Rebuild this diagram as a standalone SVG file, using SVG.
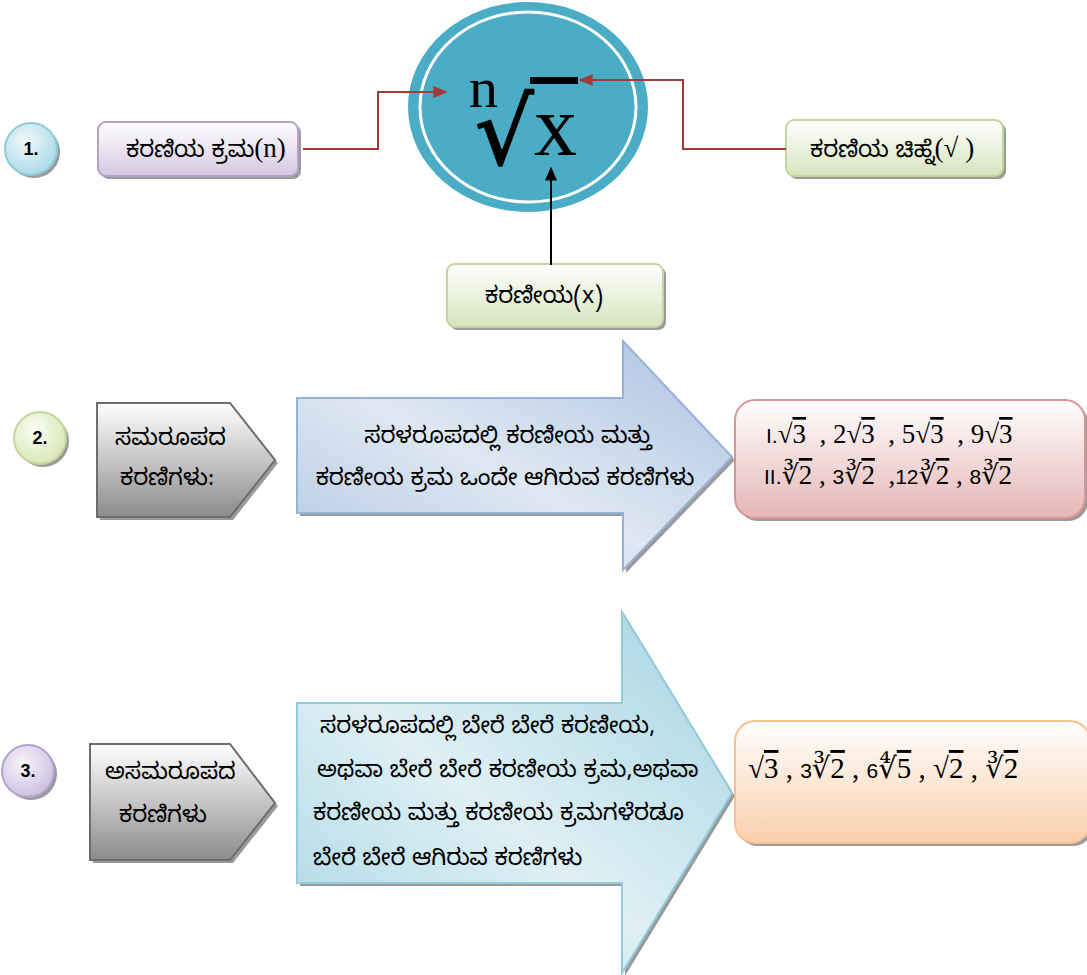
<svg xmlns="http://www.w3.org/2000/svg" width="1087" height="975" viewBox="0 0 1087 975">
<defs>
<linearGradient id="gPurple" x1="0" y1="0" x2="0" y2="1"><stop offset="0" stop-color="#ffffff"/><stop offset="1" stop-color="#d5c8e2"/></linearGradient>
<linearGradient id="gGreen" x1="0" y1="0" x2="0" y2="1"><stop offset="0" stop-color="#ffffff"/><stop offset="1" stop-color="#d7e4bd"/></linearGradient>
<linearGradient id="gGray" x1="0" y1="0" x2="0" y2="1"><stop offset="0" stop-color="#ffffff"/><stop offset="1" stop-color="#8c8c8c"/></linearGradient>
<linearGradient id="gBlue" x1="0" y1="1" x2="1" y2="0"><stop offset="0" stop-color="#b3c8e3"/><stop offset="0.45" stop-color="#dfe8f3"/><stop offset="1" stop-color="#a9c1df"/></linearGradient>
<linearGradient id="gCyan" x1="0" y1="1" x2="1" y2="0"><stop offset="0" stop-color="#a9d6e3"/><stop offset="0.45" stop-color="#dff0f5"/><stop offset="1" stop-color="#a3d3e1"/></linearGradient>
<linearGradient id="gPink" x1="0" y1="0" x2="0" y2="1"><stop offset="0" stop-color="#ffffff"/><stop offset="1" stop-color="#e5b6b5"/></linearGradient>
<linearGradient id="gOrange" x1="0" y1="0" x2="0" y2="1"><stop offset="0" stop-color="#ffffff"/><stop offset="1" stop-color="#fbd0ad"/></linearGradient>
<radialGradient id="cCyan" cx="0.4" cy="0.35" r="0.7"><stop offset="0" stop-color="#f2fafc"/><stop offset="1" stop-color="#a6d9e5"/></radialGradient>
<radialGradient id="cGreen" cx="0.4" cy="0.35" r="0.7"><stop offset="0" stop-color="#fbfdf5"/><stop offset="1" stop-color="#d6e6b2"/></radialGradient>
<radialGradient id="cPurple" cx="0.4" cy="0.35" r="0.7"><stop offset="0" stop-color="#f8f5fb"/><stop offset="1" stop-color="#cbbde0"/></radialGradient>
<marker id="arRed" viewBox="0 0 10 10" refX="9" refY="5" markerWidth="7" markerHeight="6" orient="auto" preserveAspectRatio="none"><path d="M0,0 L10,5 L0,10 z" fill="#a33a3a"/></marker>
<marker id="arBlk" viewBox="0 0 10 10" refX="9" refY="5" markerWidth="7" markerHeight="6" orient="auto" preserveAspectRatio="none"><path d="M0,0 L10,5 L0,10 z" fill="#000"/></marker>
</defs>
<style>
.kn{font-family:"Noto Sans Kannada","Lohit Kannada","Tunga","Noto Sans",sans-serif;font-size:23px;fill:#000}
.num{font-family:"Liberation Sans",Arial,sans-serif;font-weight:bold;font-size:18px;fill:#000}
.math{font-family:"Liberation Serif","DejaVu Serif",serif;font-size:27px;fill:#000;white-space:pre}
.sm{font-family:"Liberation Sans",Arial,sans-serif;font-size:21px}
.ov{text-decoration:overline}
.par{font-family:"Liberation Serif",serif;font-size:27px}
.shadow{fill:#9a9a9a}
.conR{fill:none;stroke:#a33a3a;stroke-width:2}
</style>
<rect width="1087" height="975" fill="#ffffff"/>

<g id="root-symbol">
<ellipse cx="528" cy="107" rx="120" ry="105" fill="#4aacc5"/>
<ellipse cx="528" cy="107" rx="108" ry="95" fill="none" stroke="#ffffff" stroke-width="3"/>
<text x="469" y="107" style="font-family:'Liberation Serif',serif;font-size:58px">n</text>
<text x="475" y="164" style="font-family:'DejaVu Serif',serif;font-size:92px" stroke="#000" stroke-width="1.5">√</text>
<rect x="530" y="77" width="48" height="7" fill="#000"/>
<text x="534" y="155" style="font-family:'Liberation Serif',serif;font-size:86px">x</text>
</g>

<g id="n1">
<circle cx="34" cy="152" r="26" class="shadow"/>
<circle cx="31" cy="149" r="26" fill="url(#cCyan)" stroke="#8ccbd9" stroke-width="2"/>
<text x="31" y="155" class="num" text-anchor="middle">1.</text>
</g>

<g id="order">
<rect x="101" y="125" width="200" height="54" rx="8" class="shadow"/>
<rect x="98" y="122" width="200" height="54" rx="8" fill="url(#gPurple)" stroke="#b3a2ca" stroke-width="2"/>
<text x="126" y="157" class="kn">ಕರಣಿಯ ಕ್ರಮ<tspan class="par">(n)</tspan></text>
</g>

<g id="sign">
<rect x="789" y="123" width="217" height="56" rx="8" class="shadow"/>
<rect x="786" y="120" width="217" height="56" rx="8" fill="url(#gGreen)" stroke="#c3d69b" stroke-width="2"/>
<text x="810" y="157" class="kn">ಕರಣಿಯ ಚಿಹ್ನೆ<tspan class="par" style="white-space:pre">(√ )</tspan></text>
</g>

<g id="radicand">
<rect x="450" y="267" width="216" height="63" rx="8" class="shadow"/>
<rect x="447" y="264" width="216" height="63" rx="8" fill="url(#gGreen)" stroke="#c3d69b" stroke-width="2"/>
<text x="485" y="303" class="kn">ಕರಣೀಯ(x)</text>
</g>

<g id="n2">
<circle cx="43" cy="441" r="26" class="shadow"/>
<circle cx="40" cy="438" r="26" fill="url(#cGreen)" stroke="#c3d69b" stroke-width="2"/>
<text x="40" y="444" class="num" text-anchor="middle">2.</text>
</g>

<g id="like-label">
<polygon points="100,406 233,406 278,463 233,520 100,520" class="shadow"/>
<polygon points="97,403 230,403 275,460 230,517 97,517" fill="url(#gGray)" stroke="#6d6d6d" stroke-width="2"/>
<text x="115" y="445" class="kn">ಸಮರೂಪದ</text>
<text x="120" y="485" class="kn">ಕರಣಿಗಳು:</text>
</g>

<g id="like-def">
<polygon points="300,401 626,401 626,344 735,460 626,573 626,516 300,516" class="shadow"/>
<polygon points="297,398 623,398 623,341 732,457 623,570 623,513 297,513" fill="url(#gBlue)" stroke="#95b3d7" stroke-width="2"/>
<text x="508" y="443" class="kn" text-anchor="middle">ಸರಳರೂಪದಲ್ಲಿ ಕರಣೀಯ ಮತ್ತು</text>
<text x="505" y="485" class="kn" text-anchor="middle">ಕರಣೀಯ ಕ್ರಮ ಒಂದೇ ಆಗಿರುವ ಕರಣಿಗಳು</text>
</g>

<g id="like-ex">
<rect x="738" y="403" width="350" height="118" rx="20" class="shadow"/>
<rect x="735" y="400" width="350" height="118" rx="20" fill="url(#gPink)" stroke="#d99694" stroke-width="2"/>
<text x="766" y="443" class="math"><tspan class="sm">I.</tspan>√<tspan class="ov">3</tspan>  , 2√<tspan class="ov">3</tspan>  , 5√<tspan class="ov">3</tspan>  , 9√<tspan class="ov">3</tspan></text>
<text x="764" y="484" class="math"><tspan class="sm">II.</tspan>∛<tspan class="ov">2</tspan> , <tspan class="sm">3</tspan>∛<tspan class="ov">2</tspan>  ,<tspan class="sm">12</tspan>∛<tspan class="ov">2</tspan> , <tspan class="sm">8</tspan>∛<tspan class="ov">2</tspan></text>
</g>

<g id="n3">
<circle cx="31" cy="774" r="26" class="shadow"/>
<circle cx="28" cy="771" r="26" fill="url(#cPurple)" stroke="#b3a2ca" stroke-width="2"/>
<text x="28" y="777" class="num" text-anchor="middle">3.</text>
</g>

<g id="unlike-label">
<polygon points="93,747 233,747 278,806 233,863 93,863" class="shadow"/>
<polygon points="90,744 230,744 275,803 230,860 90,860" fill="url(#gGray)" stroke="#6d6d6d" stroke-width="2"/>
<text x="105" y="779" class="kn">ಅಸಮರೂಪದ</text>
<text x="119" y="822" class="kn">ಕರಣಿಗಳು</text>
</g>

<g id="unlike-def">
<polygon points="300,706 625,706 625,615 735,796 625,976 625,886 300,886" class="shadow"/>
<polygon points="297,703 622,703 622,612 732,793 622,973 622,883 297,883" fill="url(#gCyan)" stroke="#92cddc" stroke-width="2"/>
<text x="320" y="733" class="kn">ಸರಳರೂಪದಲ್ಲಿ ಬೇರೆ ಬೇರೆ ಕರಣೀಯ,</text>
<text x="317" y="777" class="kn">ಅಥವಾ ಬೇರೆ ಬೇರೆ ಕರಣೀಯ ಕ್ರಮ,ಅಥವಾ</text>
<text x="313" y="820" class="kn">ಕರಣೀಯ ಮತ್ತು ಕರಣೀಯ ಕ್ರಮಗಳೆರಡೂ</text>
<text x="313" y="865" class="kn">ಬೇರೆ ಬೇರೆ ಆಗಿರುವ ಕರಣಿಗಳು</text>
</g>

<g id="unlike-ex">
<rect x="738" y="724" width="355" height="122" rx="20" class="shadow"/>
<rect x="735" y="721" width="355" height="122" rx="20" fill="url(#gOrange)" stroke="#fabf8f" stroke-width="2"/>
<text x="748" y="778" class="math" style="font-size:29px">√<tspan class="ov">3</tspan> , <tspan class="sm">3</tspan>∛<tspan class="ov">2</tspan> , <tspan class="sm">6</tspan>∜<tspan class="ov">5</tspan> , √<tspan class="ov">2</tspan> , ∛<tspan class="ov">2</tspan></text>
</g>

<g id="connectors">
<polyline class="conR" points="303,149 378,149 378,92 446,92" marker-end="url(#arRed)"/>
<polyline class="conR" points="786,149 683,149 683,80 580,80" marker-end="url(#arRed)"/>
<line x1="551" y1="265" x2="551" y2="168" stroke="#000" stroke-width="2" marker-end="url(#arBlk)"/>
</g>
</svg>
